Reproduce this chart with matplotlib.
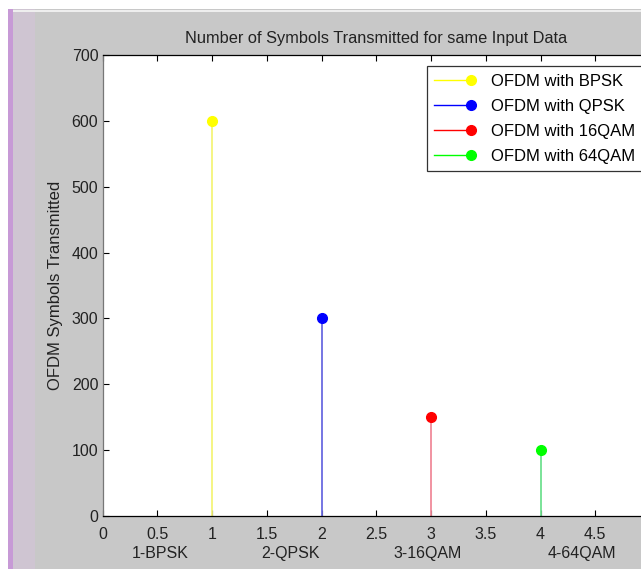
import matplotlib.pyplot as plt
from matplotlib.patches import Rectangle
from matplotlib.legend_handler import HandlerLine2D

plt.rcParams['font.family'] = ['Liberation Sans', 'DejaVu Sans']

# data
schemes = ['OFDM with BPSK', 'OFDM with QPSK', 'OFDM with 16QAM', 'OFDM with 64QAM']
x_pos = [1, 2, 3, 4]
symbols = [600, 300, 150, 100]
marker_colors = ['#ffff00', '#0000ff', '#ff0000', '#00ff00']
stem_colors = ['#f4f47a', '#6a6ae0', '#f08a9a', '#70e090']
group_labels = ['1-BPSK', '2-QPSK', '3-16QAM', '4-64QAM']
group_label_x = [0.53, 1.72, 2.97, 4.38]

FS = 11.5
W, H = 641, 569
fig = plt.figure(figsize=(W / 100, H / 100), dpi=100)
fig.patch.set_facecolor('white')

# window frame: grey background with purple left strip
fig.add_artist(Rectangle((8 / W, 0), 1, 1 - 9 / H, transform=fig.transFigure,
                         facecolor='#c8c8c8', edgecolor='none', zorder=-10))
fig.add_artist(Rectangle((8 / W, 0), 5 / W, 1 - 9 / H, transform=fig.transFigure,
                         facecolor='#c79ad6', edgecolor='none', zorder=-9))
fig.add_artist(Rectangle((13 / W, 0), 22 / W, 1 - 9 / H, transform=fig.transFigure,
                         facecolor='#cfc5d2', edgecolor='none', zorder=-9))
fig.add_artist(Rectangle((13 / W, 1 - 12 / H), 1, 2 / H, transform=fig.transFigure,
                         facecolor='#eeeeee', edgecolor='none', zorder=-8))

left, right = 102.5 / W, 650 / W
bottom, top = 1 - 516 / H, 1 - 55 / H
ax = fig.add_axes([left, bottom, right - left, top - bottom])
ax.set_facecolor('white')

for xi, yi, lab, mc, sc in zip(x_pos, symbols, schemes, marker_colors, stem_colors):
    ax.plot([xi, xi], [0, yi], color=sc, lw=1.3, zorder=2)
    ax.plot([xi], [yi], 'o', color=mc, ms=7, zorder=3)
    ax.plot([], [], '-o', color=mc, ms=7, lw=1, label=lab)

ax.set_xlim(0, 5)
ax.set_ylim(0, 700)
ax.set_xticks([0, 0.5, 1, 1.5, 2, 2.5, 3, 3.5, 4, 4.5])
ax.set_xticklabels(['0', '0.5', '1', '1.5', '2', '2.5', '3', '3.5', '4', '4.5'])
ax.set_yticks(range(0, 701, 100))
ax.tick_params(direction='in', length=4, width=0.8, labelsize=FS,
               top=True, right=True, colors='black', labelcolor='#222222')
ax.tick_params(axis='x', pad=8)
ax.tick_params(axis='y', pad=3)
for s in ax.spines.values():
    s.set_color('black')
    s.set_linewidth(0.9)
ax.spines['left'].set_color('#777777')

ax.set_title('Number of Symbols Transmitted for same Input Data',
             fontsize=11.8, color='#222222', pad=9)
ax.set_ylabel('OFDM Symbols Transmitted', fontsize=12, color='#222222', labelpad=6)

for gx, gl in zip(group_label_x, group_labels):
    ax.text(gx, -0.066, gl, transform=ax.get_xaxis_transform(),
            ha='center', va='top', fontsize=FS, color='#222222')


class EndMarker(HandlerLine2D):
    # marker at the right end of the legend line, like MATLAB
    def create_artists(self, legend, orig_handle, xdescent, ydescent,
                       width, height, fontsize, trans):
        artists = super().create_artists(legend, orig_handle, xdescent, ydescent,
                                         width, height, fontsize, trans)
        artists[0].set_markevery([2])
        return artists


leg = ax.legend(loc='upper left', bbox_to_anchor=((427 - 102.5) / (650 - 102.5), 0.976),
                fontsize=12, frameon=True, fancybox=False, borderaxespad=0,
                handlelength=2.2, handletextpad=1.2, labelspacing=0.6, borderpad=0.45,
                handler_map={plt.Line2D: EndMarker()})
leg.get_frame().set_edgecolor('black')
leg.get_frame().set_linewidth(0.9)

fig.savefig('out.png', dpi=100, facecolor=fig.get_facecolor())
